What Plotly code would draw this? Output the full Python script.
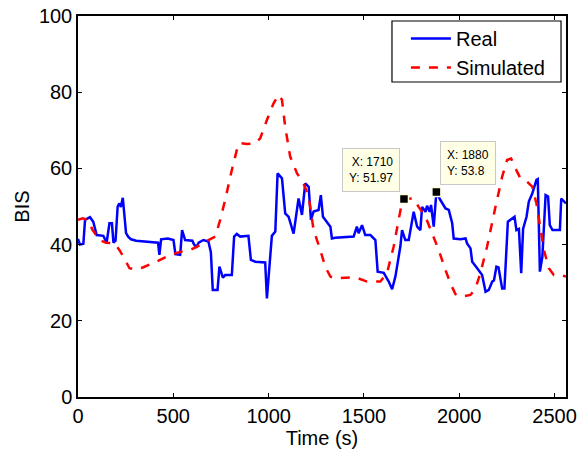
import plotly.graph_objects as go

real_t = [0, 10, 28, 37, 63, 80, 98, 133, 150, 165, 178, 186, 197, 208, 217, 225, 235, 243, 252, 264,
          278, 305, 340, 378, 420, 427, 436, 471, 501, 511, 536, 546, 562, 600, 606, 620, 633, 658, 684, 697,
          707, 732, 742, 760, 772, 807, 819, 833, 851, 894, 907, 930, 982, 991, 1005, 1017, 1035, 1043, 1047, 1070,
          1087, 1105, 1131, 1157, 1175, 1192, 1210, 1222, 1236, 1262, 1274, 1285, 1306, 1324, 1332, 1349, 1446, 1463, 1472, 1490,
          1507, 1534, 1560, 1572, 1604, 1630, 1648, 1665, 1691, 1700, 1717, 1735, 1761, 1779, 1796, 1805, 1823, 1831, 1845, 1852,
          1866, 1880, 1901, 1928, 1945, 1963, 1971, 2006, 2033, 2041, 2059, 2068, 2094, 2120, 2138, 2155, 2173, 2182, 2195, 2206,
          2225, 2237, 2255, 2278, 2290, 2300, 2313, 2325, 2335, 2353, 2365, 2383, 2405, 2412, 2423, 2436, 2453, 2466, 2475, 2489,
          2528, 2535, 2560]
real_bis = [41.5, 40, 40.2, 46.5, 47.2, 46, 42.5, 42.3, 40.5, 45.6, 45.6, 40.5, 41, 50, 50.8, 49.9, 52.3, 47.3, 43, 42,
            41.4, 41, 40.8, 40.6, 40.5, 37.3, 41.4, 41.6, 41.2, 37.5, 37.3, 43.8, 41.2, 41, 40.3, 39.2, 40.5, 41.2, 40.8, 38,
            28.1, 28.1, 34.2, 31.3, 32, 32, 42.1, 42.8, 42.1, 42.3, 36, 35.5, 35.3, 25.9, 35.3, 42.3, 43.4, 58.3, 58.7, 57.4,
            48.2, 47.3, 42.9, 52.1, 47.8, 56.1, 55.2, 46.5, 48.7, 49.1, 53, 47.3, 46, 44.7, 41.6, 41.8, 42.1, 44.7, 43, 45.1,
            42.5, 42.5, 41.2, 32.9, 32.6, 30.3, 28.3, 31.6, 39.5, 43.8, 41.2, 41.2, 48.6, 44.7, 43.8, 49.9, 48.6, 50.2, 48.6, 50.4,
            44.7, 53.8, 51.7, 49.5, 49.1, 45.6, 41.6, 41.4, 41.6, 40.3, 39, 35.5, 33.8, 32, 27.6, 28.1, 30.3, 30.6, 34.2, 34,
            28.5, 28.5, 46, 46.9, 47.3, 43.8, 44.1, 32.5, 44.2, 47.3, 51.3, 53.4, 57, 57.2, 32.9, 36.8, 53, 52.6, 45.1, 43.8,
            43.8, 52.1, 50.8]

sim_t = [0, 25, 51, 77, 112, 147, 191, 217, 243, 270, 301, 340, 410, 462, 511, 536, 588, 641, 684, 720,
         746, 772, 807, 833, 847, 886, 930, 956, 991, 1026, 1052, 1070, 1087, 1113, 1149, 1183, 1210, 1236, 1271, 1297,
         1324, 1350, 1429, 1472, 1516, 1586, 1621, 1656, 1682, 1700, 1710, 1761, 1787, 1823, 1858, 1892, 1928, 1954, 1980, 2006,
         2059, 2085, 2111, 2146, 2190, 2225, 2251, 2272, 2295, 2321, 2356, 2383, 2405, 2423, 2444, 2470, 2496, 2531, 2560]
sim_bis = [46.5, 46.9, 46.5, 43.8, 41.2, 40.5, 40.3, 38.6, 36.4, 33.8, 33.5, 34, 35.5, 36.8, 37.7, 38.1, 38.6, 39.9, 41.2, 42.1,
           46.5, 51.7, 59.6, 64.8, 66.7, 66.4, 66.6, 67.9, 72.7, 77.1, 79.3, 78, 70.9, 63.1, 58.7, 56.1, 52.6, 43.8, 38.6, 34.2,
           31.6, 31.1, 31.4, 31.1, 30.3, 30.3, 32.5, 39.5, 46.5, 51.2, 51.97, 52.1, 49.9, 47.3, 42.9, 38.6, 33.3, 29.8, 27, 26.3,
           26.8, 28.5, 32.5, 39.5, 49.9, 57.8, 62.2, 62.6, 60, 57.4, 56.5, 55.2, 50.8, 45.1, 38.6, 33.8, 32, 32, 31.6]

tip_t = [1710, 1880]
tip_bis = [51.97, 53.8]
tip_labels = ["X: 1710<br>Y: 51.97", "X: 1880<br>Y: 53.8"]

x_ticks = [0, 500, 1000, 1500, 2000, 2500]
y_ticks = [0, 20, 40, 60, 80, 100]

FONT = "Liberation Sans, Arial, sans-serif"

fig = go.Figure()
fig.add_trace(go.Scatter(x=real_t, y=real_bis, mode="lines", name="Real",
                         line=dict(color="#0000FF", width=2.5)))
fig.add_trace(go.Scatter(x=sim_t, y=sim_bis, mode="lines", name="Simulated",
                         line=dict(color="#FF0000", width=2.5, dash="dash")))
fig.add_trace(go.Scatter(x=tip_t, y=tip_bis, mode="markers", showlegend=False,
                         marker=dict(symbol="square", size=9, color="black",
                                     line=dict(color="#FFFFE0", width=1.5))))

fig.add_annotation(x=tip_t[0], y=tip_bis[0], text=tip_labels[0], showarrow=False,
                   xanchor="right", yanchor="bottom", xshift=-4, yshift=7, align="right",
                   bgcolor="#FFFFE6", bordercolor="#C8C8C8", borderwidth=1, borderpad=6,
                   font=dict(family=FONT, size=12, color="black"))
fig.add_annotation(x=tip_t[1], y=tip_bis[1], text=tip_labels[1], showarrow=False,
                   xanchor="left", yanchor="bottom", xshift=4, yshift=7, align="left",
                   bgcolor="#FFFFE6", bordercolor="#C8C8C8", borderwidth=1, borderpad=6,
                   font=dict(family=FONT, size=12, color="black"))

# legend frame
fig.add_shape(type="rect", xref="paper", yref="paper",
              x0=0.6434, x1=0.9898, y0=0.8268, y1=0.9869,
              line=dict(color="black", width=1.2), fillcolor="white", layer="above")

axis_common = dict(showline=True, linecolor="black", linewidth=1.5, mirror="allticks",
                   ticks="inside", ticklen=4, tickcolor="black", showgrid=False, zeroline=False,
                   automargin=False,
                   tickfont=dict(family=FONT, size=20, color="black"))
fig.update_xaxes(range=[0, 2560], tickvals=x_ticks,
                 title=dict(text="Time (s)", font=dict(family=FONT, size=20), standoff=2),
                 **axis_common)
fig.update_yaxes(range=[0, 100], tickvals=y_ticks,
                 title=dict(text="BIS", font=dict(family=FONT, size=20), standoff=4),
                 **axis_common)

fig.update_layout(
    width=580, height=452,
    margin=dict(l=78, r=14, t=16, b=55),
    paper_bgcolor="white", plot_bgcolor="white",
    font=dict(family=FONT, color="black"),
    legend=dict(x=0.672, y=0.992, xanchor="left", yanchor="top",
                bgcolor="rgba(0,0,0,0)", borderwidth=0,
                font=dict(family=FONT, size=20), itemwidth=40, tracegroupgap=0),
)

fig.write_html("out.html")
